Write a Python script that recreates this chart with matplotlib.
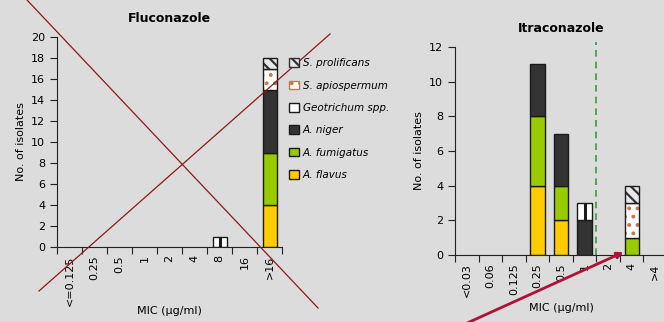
import matplotlib
matplotlib.use("Agg")
import matplotlib.pyplot as plt
from matplotlib.patches import Patch, FancyArrowPatch
from matplotlib.lines import Line2D
import numpy as np

plt.rcParams['font.family'] = ['DejaVu Sans']
plt.rcParams['hatch.linewidth'] = 1.6

BG = '#dcdcdc'

# Fluconazole MIC distribution
flu_mic = ['<=0.125', '0.25', '0.5', '1', '2', '4', '8', '16', '>16']
flu_flavus = [0, 0, 0, 0, 0, 0, 0, 0, 4]
flu_fumigatus = [0, 0, 0, 0, 0, 0, 0, 0, 5]
flu_niger = [0, 0, 0, 0, 0, 0, 0, 0, 6]
flu_geotrichum = [0, 0, 0, 0, 0, 0, 1, 0, 0]
flu_apiospermum = [0, 0, 0, 0, 0, 0, 0, 0, 2]
flu_prolificans = [0, 0, 0, 0, 0, 0, 0, 0, 1]

# Itraconazole MIC distribution
itr_mic = ['<0.03', '0.06', '0.125', '0.25', '0.5', '1', '2', '4', '>4']
itr_flavus = [0, 0, 0, 4, 2, 0, 0, 0, 0]
itr_fumigatus = [0, 0, 0, 4, 2, 0, 0, 1, 0]
itr_niger = [0, 0, 0, 3, 3, 2, 0, 0, 0]
itr_geotrichum = [0, 0, 0, 0, 0, 1, 0, 0, 0]
itr_apiospermum = [0, 0, 0, 0, 0, 0, 0, 2, 0]
itr_prolificans = [0, 0, 0, 0, 0, 0, 0, 1, 0]

species = ['A. flavus', 'A. fumigatus', 'A. niger', 'Geotrichum spp.',
           'S. apiospermum', 'S. prolificans']

W, H = 664, 322
fig = plt.figure(figsize=(W / 100, H / 100), dpi=100, facecolor=BG)


def px(x0, y0, x1, y1):
    """Axes rectangle from pixel box (left, top, right, bottom)."""
    return [x0 / W, 1 - y1 / H, (x1 - x0) / W, (y1 - y0) / H]


def draw_segment(ax, x, height, bottom, kind, width):
    if kind == 'A. flavus':
        ax.bar(x, height, width, bottom=bottom, color='#ffcc00', edgecolor='#1a1a1a', lw=1)
    elif kind == 'A. fumigatus':
        ax.bar(x, height, width, bottom=bottom, color='#99cc00', edgecolor='#1a1a1a', lw=1)
    elif kind == 'A. niger':
        ax.bar(x, height, width, bottom=bottom, color='#333333', edgecolor='#1a1a1a', lw=1)
    elif kind == 'Geotrichum spp.':
        ax.bar(x, height, width, bottom=bottom, color='white', edgecolor='#1a1a1a', lw=1)
        ax.vlines(x, bottom, bottom + height, color='#1a1a1a', lw=2.2, zorder=3)
    elif kind == 'S. apiospermum':
        ax.bar(x, height, width, bottom=bottom, color='white', edgecolor='#c8784e',
               lw=0, hatch='..')
        ax.bar(x, height, width, bottom=bottom, fill=False, edgecolor='#1a1a1a', lw=1)
    elif kind == 'S. prolificans':
        ax.bar(x, height, width, bottom=bottom, color='#e8e8e8', edgecolor='#333333',
               lw=0, hatch='\\\\\\')
        ax.bar(x, height, width, bottom=bottom, fill=False, edgecolor='#1a1a1a', lw=1)


def stacked(ax, labels, series, width):
    x = np.arange(len(labels))
    bottom = np.zeros(len(labels))
    for name, vals in zip(species, series):
        for i, v in enumerate(vals):
            if v > 0:
                draw_segment(ax, x[i], v, bottom[i], name, width)
        bottom += np.array(vals)


def style(ax, labels, ymax, title, title_pad, xlabel_y):
    ax.set_facecolor(BG)
    for s in ['top', 'right']:
        ax.spines[s].set_visible(False)
    for s in ['left', 'bottom']:
        ax.spines[s].set_color('#222222')
    ax.set_xlim(-0.5, len(labels) - 0.5)
    ax.set_ylim(0, ymax)
    ax.set_yticks(np.arange(0, ymax + 1, 2))
    ax.set_xticks(np.arange(len(labels) + 1) - 0.5)
    ax.set_xticklabels([])
    ax.set_xticks(np.arange(len(labels)), minor=True)
    ax.set_xticklabels(labels, minor=True, rotation=90, fontsize=8)
    ax.tick_params(axis='x', which='minor', length=0, pad=6)
    ax.tick_params(axis='x', which='major', direction='out', length=5, color='#222222')
    ax.tick_params(axis='y', direction='out', length=5, labelsize=8, color='#222222')
    ax.set_ylabel('No. of isolates', fontsize=8)
    ax.set_xlabel('MIC (µg/ml)', fontsize=8)
    ax.xaxis.set_label_coords(0.5, xlabel_y)
    ax.set_title(title, fontsize=9, fontweight='bold', pad=title_pad)


ax1 = fig.add_axes(px(57, 37, 282, 247))
stacked(ax1, flu_mic, [flu_flavus, flu_fumigatus, flu_niger, flu_geotrichum,
                       flu_apiospermum, flu_prolificans], 0.56)
style(ax1, flu_mic, 20, 'Fluconazole', 11, -0.28)

ax2 = fig.add_axes(px(455, 47, 667, 255))
stacked(ax2, itr_mic, [itr_flavus, itr_fumigatus, itr_niger, itr_geotrichum,
                       itr_apiospermum, itr_prolificans], 0.6)
style(ax2, itr_mic, 12, 'Itraconazole', 11, -0.23)
ax2.axvline(5.5, ymin=0, ymax=12.3 / 12, color='#3a9a3a', ls=(0, (4, 3)), lw=1.2,
            clip_on=False)

# Legend
handles = [
    Patch(facecolor='#e8e8e8', edgecolor='#333333', hatch='\\\\\\', label='S. prolificans'),
    Patch(facecolor='white', edgecolor='#c8784e', hatch='..', label='S. apiospermum'),
    Patch(facecolor='white', edgecolor='#1a1a1a', label='Geotrichum spp.'),
    Patch(facecolor='#333333', edgecolor='#1a1a1a', label='A. niger'),
    Patch(facecolor='#99cc00', edgecolor='#1a1a1a', label='A. fumigatus'),
    Patch(facecolor='#ffcc00', edgecolor='#1a1a1a', label='A. flavus'),
]
leg = fig.legend(handles=handles, loc='upper left', bbox_to_anchor=(280 / W, 1 - 49 / H),
                 frameon=False, handlelength=0.9, handleheight=0.9,
                 handletextpad=0.4, labelspacing=1.18, prop={'style': 'italic', 'size': 7.5})

# Crossing lines over the fluconazole panel
fig.add_artist(Line2D([27 / W, 318 / W], [1 - 0 / H, 1 - 308 / H],
                      transform=fig.transFigure, color='#8b1a1a', lw=0.9))
fig.add_artist(Line2D([39 / W, 330 / W], [1 - 291 / H, 1 - 34 / H],
                      transform=fig.transFigure, color='#8b1a1a', lw=0.9))

# Arrow pointing at the itraconazole 4 µg/ml bar
fig.add_artist(FancyArrowPatch((465 / W, 1 - 324 / H), (626 / W, 1 - 251 / H),
                               transform=fig.transFigure, arrowstyle='-|>',
                               mutation_scale=9, color='#b0103a', lw=2))

fig.savefig('out.png', dpi=100, facecolor=BG)
